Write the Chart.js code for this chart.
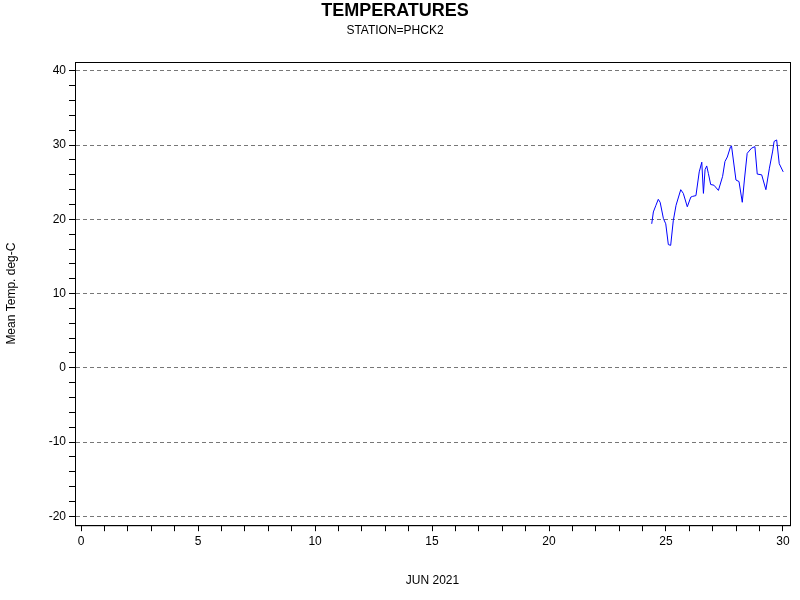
<!DOCTYPE html>
<html><head><meta charset="utf-8">
<script src="https://cdn.jsdelivr.net/npm/chart.js@4/dist/chart.umd.min.js"></script>
<style>html,body{margin:0;background:#fff}#wrap{width:800px;height:600px}</style>
</head><body><div id="wrap"><canvas id="c"></canvas></div>
<script>
// day of June 2021 (fractional) and mean temperature
const days = [24.39,24.46,24.57,24.67,24.75,24.89,24.99,25.1,25.2,25.31,25.43,25.63,25.74,25.91,26.06,26.14,26.28,26.42,26.53,26.6,26.67,26.74,26.81,26.91,27.05,27.24,27.42,27.52,27.62,27.76,27.8,27.99,28.12,28.26,28.35,28.47,28.66,28.8,28.9,29.09,29.27,29.42,29.56,29.62,29.73,29.84,30.01];
const temps = [19.4,21.0,21.9,22.7,22.3,20.1,19.4,16.6,16.5,19.8,21.9,24.0,23.5,21.7,23.0,23.1,23.2,26.4,27.7,23.5,26.7,27.2,26.2,24.7,24.6,23.9,25.8,27.8,28.4,29.8,29.9,25.3,25.1,22.3,25.3,28.9,29.6,29.8,26.1,26.0,24.0,26.9,29.2,30.5,30.7,27.5,26.4];
const xLabels = [0,5,10,15,20,25,30];
const yLabels = [-20,-10,0,10,20,30,40];

const font = {family: 'Liberation Sans, Arial, sans-serif', size: 12};
Chart.defaults.font = font;
Chart.defaults.color = '#000';

new Chart(document.getElementById('c').getContext('2d'), {
    type: 'line',
    data: {
        datasets: [{
            data: days.map((d, i) => ({x: d, y: temps[i]})),
            borderColor: '#0000ff',
            borderWidth: 1,
            pointRadius: 0,
            tension: 0
        }]
    },
    options: {
        responsive: true,
        maintainAspectRatio: false,
        animation: false,
        layout: {padding: {right: 10, bottom: 8}},
        plugins: {
            legend: {display: false},
            tooltip: {enabled: false},
            title: {display: true, text: 'TEMPERATURES', font: {family: font.family, size: 18, weight: 'bold'}, padding: {top: 0, bottom: 2}},
            subtitle: {display: true, text: 'STATION=PHCK2', font: {family: font.family, size: 12}, padding: {bottom: 24}}
        },
        scales: {
            x: {
                type: 'linear', min: -0.26, max: 30.3,
                afterBuildTicks: s => { s.ticks = []; for (let i = 0; i <= 30; i++) s.ticks.push({value: i}); },
                ticks: {autoSkip: false, maxRotation: 0, callback: v => xLabels.includes(v) ? String(v) : ''},
                grid: {display: true, drawOnChartArea: false, color: '#000', tickLength: 6},
                border: {color: '#000'},
                title: {display: true, text: 'JUN 2021', padding: {top: 22}}
            },
            y: {
                min: -21.2, max: 41.2,
                afterBuildTicks: s => { s.ticks = []; for (let v = -20; v <= 40; v += 2) s.ticks.push({value: v}); },
                afterFit: s => { s.width = 75; },
                ticks: {autoSkip: false, callback: v => yLabels.includes(v) ? String(v) : ''},
                grid: {
                    color: c => (c.tick && yLabels.includes(c.tick.value)) ? '#777' : 'rgba(0,0,0,0)',
                    tickColor: '#000', tickLength: 6, tickBorderDash: [],
                    drawTicks: true
                },
                border: {color: '#000', dash: [4, 3]},
                title: {display: true, text: 'Mean Temp. deg-C'}
            }
        }
    },
    plugins: [{
        id: 'frame',
        afterDraw(chart) {
            const a = chart.chartArea, ctx = chart.ctx;
            ctx.save();
            ctx.strokeStyle = '#000'; ctx.lineWidth = 1; ctx.setLineDash([]);
            ctx.strokeRect(a.left + 0.5, a.top + 0.5, a.right - a.left, a.bottom - a.top);
            ctx.restore();
        }
    }]
});
</script></body></html>
